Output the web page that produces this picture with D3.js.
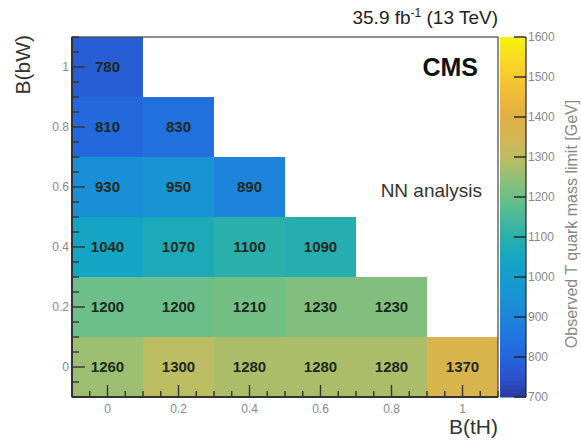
<!DOCTYPE html>
<html>
<head>
<meta charset="utf-8">
<script src="https://cdn.jsdelivr.net/npm/d3@7"></script>
<style>
  body { margin: 0; background: #fff; }
  text { font-family: "Liberation Sans", Arial, sans-serif; }
</style>
</head>
<body>
<div id="chart"></div>
<script>
// values
var bTH = [0, 0.2, 0.4, 0.6, 0.8, 1]
var bBW = [0, 0.2, 0.4, 0.6, 0.8, 1]
// one row per B(bW), columns follow B(tH) until B(tH)+B(bW) = 1
var limits = [
  [1260, 1300, 1280, 1280, 1280, 1370],
  [1200, 1200, 1210, 1230, 1230],
  [1040, 1070, 1100, 1090],
  [930, 950, 890],
  [810, 830],
  [780]
]
var axisTicks = [0, 0.2, 0.4, 0.6, 0.8, 1]
var zTicks = [700, 800, 900, 1000, 1100, 1200, 1300, 1400, 1500, 1600]
var paletteStops = [700, 750, 800, 850, 900, 950, 1000, 1050, 1100, 1150, 1200, 1250, 1300, 1350, 1400, 1450, 1500, 1550, 1600]
var paletteColors = ["#2a3a9e", "#2c52cc", "#2466dc", "#1f76e0", "#1e86da", "#1893d4", "#169dce", "#14a7c2",
                     "#2aafaa", "#4ab89a", "#6cbf88", "#93bf74", "#bcbc62", "#d4b652", "#e0b044", "#efb83a",
                     "#f6c830", "#f8dc20", "#f8f20e"]

var W = 581, H = 440
var box = {left: 72, right: 498, top: 37, bottom: 397}
var bar = {left: 500, right: 526}

var svg = d3.select("#chart").append("svg")
    .attr("width", W).attr("height", H)

var x = d3.scaleLinear().domain([-0.1, 1.1]).range([box.left, box.right])
var y = d3.scaleLinear().domain([-0.1, 1.1]).range([box.bottom, box.top])
var z = d3.scaleLinear().domain([700, 1600]).range([box.bottom, box.top])
var color = d3.scaleLinear().domain(paletteStops).range(paletteColors).clamp(true)

// cells
var cells = []
limits.forEach(function(row, j) {
  row.forEach(function(v, i) {
    cells.push({tH: bTH[i], bW: bBW[j], v: v})
  })
})

svg.selectAll("rect.cell")
  .data(cells)
  .enter().append("rect")
    .attr("class", "cell")
    .attr("x", function(d) { return x(d.tH - 0.1) })
    .attr("y", function(d) { return y(d.bW + 0.1) })
    .attr("width", x(0.2) - x(0))
    .attr("height", y(0) - y(0.2))
    .attr("fill", function(d) { return color(d.v) })
    .attr("shape-rendering", "crispEdges")

svg.selectAll("text.val")
  .data(cells)
  .enter().append("text")
    .attr("class", "val")
    .attr("x", function(d) { return x(d.tH) })
    .attr("y", function(d) { return y(d.bW) + 5 })
    .attr("text-anchor", "middle")
    .style("font-size", "15px")
    .style("font-weight", "bold")
    .style("fill", "#1c2a22")
    .text(function(d) { return d.v })

// frame
svg.append("rect")
  .attr("x", box.left).attr("y", box.top)
  .attr("width", box.right - box.left).attr("height", box.bottom - box.top)
  .attr("fill", "none").attr("stroke", "#444").attr("stroke-width", 1.2)

// axes (ROOT-style ticks pointing inside)
var minor = d3.range(-0.1, 1.1001, 0.05).map(function(v) { return Math.round(v * 100) / 100 })

var xAxis = svg.append("g").attr("stroke", "#333").attr("stroke-width", 1.4)
minor.forEach(function(v) {
  var major = axisTicks.indexOf(v) >= 0
  xAxis.append("line")
    .attr("x1", x(v)).attr("x2", x(v))
    .attr("y1", box.bottom).attr("y2", box.bottom - (major ? 12 : 6))
})
var yAxis = svg.append("g").attr("stroke", "#333").attr("stroke-width", 1.4)
minor.forEach(function(v) {
  var major = axisTicks.indexOf(v) >= 0
  yAxis.append("line")
    .attr("y1", y(v)).attr("y2", y(v))
    .attr("x1", box.left).attr("x2", box.left + (major ? 13 : 7))
})
svg.append("line").attr("x1", box.left).attr("x2", box.right)
  .attr("y1", box.bottom).attr("y2", box.bottom).attr("stroke", "#333").attr("stroke-width", 2)
svg.append("line").attr("x1", box.left).attr("x2", box.left)
  .attr("y1", box.top).attr("y2", box.bottom).attr("stroke", "#333").attr("stroke-width", 2)

svg.selectAll("text.xt")
  .data(axisTicks)
  .enter().append("text")
    .attr("x", function(d) { return x(d) })
    .attr("y", box.bottom + 16)
    .attr("text-anchor", "middle")
    .style("font-size", "12px").style("fill", "#888")
    .text(function(d) { return d })

svg.selectAll("text.yt")
  .data(axisTicks)
  .enter().append("text")
    .attr("x", box.left - 3)
    .attr("y", function(d) { return y(d) + 4 })
    .attr("text-anchor", "end")
    .style("font-size", "12px").style("fill", "#888")
    .text(function(d) { return d })

// axis titles
svg.append("text")
  .attr("x", box.right).attr("y", 434)
  .attr("text-anchor", "end")
  .style("font-size", "21px").style("fill", "#333")
  .text("B(tH)")
svg.append("text")
  .attr("transform", "translate(30," + (box.top - 2) + ") rotate(-90)")
  .attr("text-anchor", "end")
  .style("font-size", "21px").style("fill", "#333")
  .text("B(bW)")

// colour bar
var steps = d3.range(700, 1600, 10)
svg.selectAll("rect.pal")
  .data(steps)
  .enter().append("rect")
    .attr("x", bar.left)
    .attr("y", function(d) { return z(d + 10) })
    .attr("width", bar.right - bar.left)
    .attr("height", z(700) - z(710) + 0.5)
    .attr("fill", function(d) { return color(d + 5) })
svg.selectAll("line.zt")
  .data(zTicks)
  .enter().append("line")
    .attr("x1", bar.right - 12).attr("x2", bar.right)
    .attr("y1", function(d) { return z(d) }).attr("y2", function(d) { return z(d) })
    .attr("stroke", "#222").attr("stroke-width", 1.4)
svg.append("line")
  .attr("x1", bar.right).attr("x2", bar.right)
  .attr("y1", box.top).attr("y2", box.bottom)
  .attr("stroke", "#222").attr("stroke-width", 1.2)
svg.selectAll("text.zl")
  .data(zTicks)
  .enter().append("text")
    .attr("x", bar.right + 2)
    .attr("y", function(d) { return z(d) + 4 })
    .style("font-size", "12px").style("fill", "#888")
    .text(function(d) { return d })
svg.append("text")
  .attr("transform", "translate(577,224) rotate(-90)")
  .attr("text-anchor", "middle")
  .style("font-size", "16px").style("fill", "#888")
  .text("Observed T quark mass limit [GeV]")

// labels
var lumi = svg.append("text")
  .attr("x", box.right).attr("y", 24)
  .attr("text-anchor", "end")
  .style("font-size", "19px").style("fill", "#222")
lumi.append("tspan").text("35.9 fb")
lumi.append("tspan").attr("dy", -7).style("font-size", "12px").text("-1")
lumi.append("tspan").attr("dy", 7).text(" (13 TeV)")

svg.append("text")
  .attr("x", 478).attr("y", 76)
  .attr("text-anchor", "end")
  .style("font-size", "25px").style("font-weight", "bold").style("fill", "#111")
  .text("CMS")

svg.append("text")
  .attr("x", 482).attr("y", 197)
  .attr("text-anchor", "end")
  .style("font-size", "19px").style("fill", "#333")
  .text("NN analysis")
</script>
</body>
</html>
